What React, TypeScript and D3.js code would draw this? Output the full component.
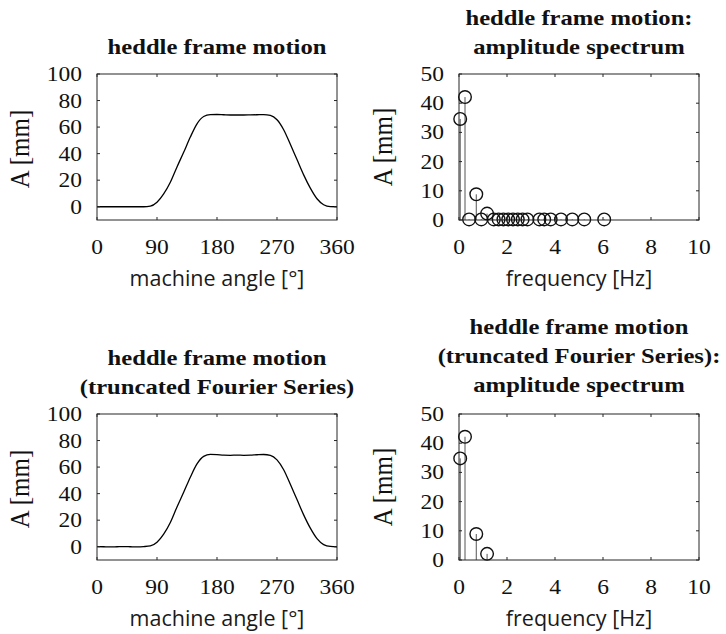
import React from 'react';
import * as d3 from 'd3';

const angles = [0, 10, 20, 30, 40, 50, 60, 70, 80, 90, 100, 110, 120, 130, 140, 150, 160, 170, 180,
  190, 200, 210, 220, 230, 240, 250, 260, 270, 280, 290, 300, 310, 320, 330, 340, 350, 360];
const motion = [0, 0, 0, 0, 0, 0, 0, 0, 0.4, 3.3, 9.6, 18.4, 30, 41, 52.5, 62.5, 68, 69.4, 69.5,
  69.3, 69.1, 69.1, 69.1, 69.2, 69.3, 69.4, 68.8, 65.5, 58, 47, 35.5, 24, 14, 6, 1.5, 0.1, 0];
const motionTruncated = [0.1, 0, -0.1, 0, 0.1, 0, -0.1, 0.1, 0.6, 3.4, 9.5, 18.3, 30, 41, 52.4, 62.4, 68.1, 69.6, 69.4,
  69.0, 68.9, 69.0, 68.9, 69.0, 69.3, 69.5, 68.9, 65.4, 58, 47, 35.5, 24, 14, 6.1, 1.6, 0.2, 0];

// amplitude spectrum
const freqs = [0.05, 0.25, 0.42, 0.72, 0.93, 1.17, 1.45, 1.65, 1.85, 2.05, 2.25, 2.45, 2.65, 2.85,
  3.35, 3.55, 3.82, 4.25, 4.72, 5.22, 6.05];
const spectrum = [34.6, 42.1, 0.2, 8.8, 0.2, 2.2, 0.2, 0.2, 0.2, 0.2, 0.2, 0.2, 0.2, 0.2,
  0.2, 0.2, 0.2, 0.2, 0.2, 0.2, 0.2];
const freqsTruncated = [0.05, 0.25, 0.72, 1.17];
const spectrumTruncated = [34.8, 42.2, 8.9, 2.1];

// ticks
const angleTicks = [0, 90, 180, 270, 360];
const motionTicks = [0, 20, 40, 60, 80, 100];
const freqTicks = [0, 2, 4, 6, 8, 10];
const spectrumTicks = [0, 10, 20, 30, 40, 50];

const serif = '"Liberation Serif", "Times New Roman", serif';
const sans = '"Open Sans", "Noto Sans", sans-serif';
const SX = 1.12; // the figure's text is a bit wider than plain Times

const W = 240, H = 146;

function Frame({ x, y, xt, yt }) {
  const b = H;
  return (
    <g>
      <rect x={0} y={0} width={W} height={H} fill="none" stroke="#262626" strokeWidth={1} />
      {xt.map((t, i) => (
        <g key={'x' + i}>
          <line x1={x(t)} x2={x(t)} y1={b} y2={b - 3} stroke="#262626" />
          <line x1={x(t)} x2={x(t)} y1={0} y2={3} stroke="#262626" />
          <text transform={`translate(${x(t)},${b + 34}) scale(${SX},1)`} textAnchor="middle"
            fontFamily={serif} fontSize={21} fill="#111">{t}</text>
        </g>
      ))}
      {yt.map((t, i) => (
        <g key={'y' + i}>
          <line x1={0} x2={3} y1={y(t)} y2={y(t)} stroke="#262626" />
          <line x1={W} x2={W - 3} y1={y(t)} y2={y(t)} stroke="#262626" />
          <text transform={`translate(-15,${y(t) + 7}) scale(${SX},1)`} textAnchor="end"
            fontFamily={serif} fontSize={21} fill="#111">{t}</text>
        </g>
      ))}
    </g>
  );
}

function Labels({ title, xlabel, titleBase }) {
  return (
    <g>
      {title.map((s, i) => (
        <text key={i} transform={`translate(${W / 2},${titleBase - (title.length - 1 - i) * 29}) scale(${SX},1)`}
          textAnchor="middle" fontFamily={serif} fontWeight="bold" fontSize={22} fill="#111">{s}</text>
      ))}
      <text x={W / 2} y={H + 66} textAnchor="middle" fontFamily={sans} fontSize={21.5} fill="#1a1a1a">{xlabel}</text>
    </g>
  );
}

function MotionPanel({ left, top, values, title, titleBase, ylabX }) {
  const x = d3.scaleLinear().domain([0, 360]).range([0, W]);
  const y = d3.scaleLinear().domain([-10, 100]).range([H, 0]);
  const pts = angles.map((a, i) => [a, values[i]]);
  const line = d3.line().x(d => x(d[0])).y(d => y(d[1])).curve(d3.curveMonotoneX);
  return (
    <g transform={`translate(${left},${top})`}>
      <path d={line(pts)} fill="none" stroke="#000" strokeWidth={1.3} />
      <Frame x={x} y={y} xt={angleTicks} yt={motionTicks} />
      <Labels title={title} xlabel="machine angle [°]" titleBase={titleBase} />
      <text transform={`translate(${ylabX},${H / 2 + 2}) scale(1.1,1) rotate(-90)`} textAnchor="middle"
        fontFamily={serif} fontSize={25} fill="#111">A [mm]</text>
    </g>
  );
}

function SpectrumPanel({ left, top, f, a, title, titleBase, ylabX }) {
  const x = d3.scaleLinear().domain([0, 10]).range([0, W]);
  const y = d3.scaleLinear().domain([0, 50]).range([H, 0]);
  return (
    <g transform={`translate(${left},${top})`}>
      {f.map((v, i) => (
        <line key={'s' + i} x1={x(v)} x2={x(v)} y1={y(0)} y2={y(a[i])} stroke="#555" strokeWidth={1} />
      ))}
      <Frame x={x} y={y} xt={freqTicks} yt={spectrumTicks} />
      {f.map((v, i) => (
        <circle key={'c' + i} cx={x(v)} cy={y(a[i])} r={6.3} fill="none" stroke="#111" strokeWidth={1.4} />
      ))}
      <Labels title={title} xlabel="frequency [Hz]" titleBase={titleBase} />
      <text transform={`translate(${ylabX},${H / 2}) scale(1.1,1) rotate(-90)`} textAnchor="middle"
        fontFamily={serif} fontSize={25} fill="#111">A [mm]</text>
    </g>
  );
}

export default function App() {
  return (
    <svg width={726} height={634} style={{ position: 'absolute', left: 0, top: 0, background: '#fff' }}>
      <MotionPanel left={97} top={74} values={motion} title={['heddle frame motion']}
        titleBase={-20} ylabX={-68} />
      <SpectrumPanel left={459} top={74} f={freqs} a={spectrum}
        title={['heddle frame motion:', 'amplitude spectrum']} titleBase={-20} ylabX={-67} />
      <MotionPanel left={97} top={414} values={motionTruncated}
        title={['heddle frame motion', '(truncated Fourier Series)']} titleBase={-20} ylabX={-68} />
      <SpectrumPanel left={459} top={414} f={freqsTruncated} a={spectrumTruncated}
        title={['heddle frame motion', '(truncated Fourier Series):', 'amplitude spectrum']}
        titleBase={-22} ylabX={-67} />
    </svg>
  );
}
